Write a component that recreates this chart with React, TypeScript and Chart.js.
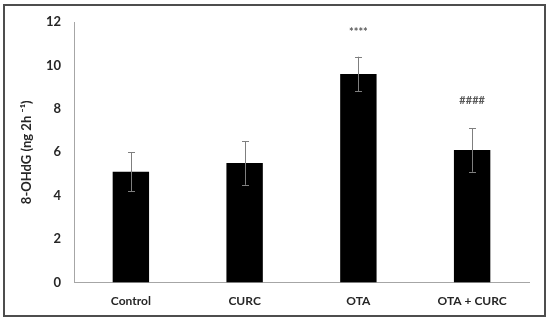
import React, { useEffect, useRef } from "react";
import { Chart, registerables } from "chart.js";

Chart.register(...registerables);

const categories = ["Control", "CURC", "OTA", "OTA + CURC"];
const means = [5.1, 5.5, 9.6, 6.1];
const errors = [0.9, 1.0, 0.8, 1.0];
const marks = ["", "", "****", "####"];
const markValues = [0, 0, 11.5, 8.4];
const yTicks = [0, 2, 4, 6, 8, 10, 12];

const FONT = "Lato, 'Open Sans', sans-serif";

const errorBarPlugin = {
  id: "errorBars",
  afterDatasetsDraw(chart: any) {
    const ctx = chart.ctx;
    const y = chart.scales.y;
    const meta = chart.getDatasetMeta(0);
    ctx.save();
    ctx.strokeStyle = "#7f7f7f";
    ctx.lineWidth = 1;
    meta.data.forEach((bar: any, i: number) => {
      const x = Math.round(bar.x) + 0.5;
      const top = y.getPixelForValue(means[i] + errors[i]);
      const bot = y.getPixelForValue(means[i] - errors[i]);
      ctx.beginPath();
      ctx.moveTo(x, top);
      ctx.lineTo(x, bot);
      ctx.moveTo(x - 3.5, Math.round(top) + 0.5);
      ctx.lineTo(x + 3.5, Math.round(top) + 0.5);
      ctx.moveTo(x - 3.5, Math.round(bot) + 0.5);
      ctx.lineTo(x + 3.5, Math.round(bot) + 0.5);
      ctx.stroke();
      if (marks[i]) {
        ctx.fillStyle = "#595959";
        ctx.font = `bold 11px ${FONT}`;
        ctx.textAlign = "center";
        ctx.textBaseline = "middle";
        ctx.fillText(marks[i], bar.x, y.getPixelForValue(markValues[i]));
      }
    });
    ctx.restore();
  },
};

export default function App() {
  const ref = useRef<HTMLCanvasElement | null>(null);
  useEffect(() => {
    document.body.style.margin = "0";
    const chart = new Chart(ref.current as HTMLCanvasElement, {
      type: "bar",
      data: {
        labels: categories,
        datasets: [
          {
            data: means,
            backgroundColor: "#000000",
            borderWidth: 0,
            categoryPercentage: 1,
            barPercentage: 0.32,
          },
        ],
      },
      options: {
        animation: false,
        responsive: false,
        maintainAspectRatio: false,
        layout: { padding: { left: 15, right: 21, top: 22, bottom: 0 } },
        plugins: { legend: { display: false }, tooltip: { enabled: false } },
        scales: {
          x: {
            grid: { display: false, drawTicks: false },
            border: { display: true, color: "#a6a6a6", width: 1 },
            ticks: {
              padding: 11,
              color: "#262626",
              font: { family: FONT, size: 12, weight: "bold" },
            },
            afterFit(scale: any) {
              scale.height = 41.5;
            },
          },
          y: {
            min: 0,
            max: 12,
            afterBuildTicks(scale: any) {
              scale.ticks = yTicks.map((v) => ({ value: v }));
            },
            grid: { display: false, drawTicks: false },
            border: { display: true, color: "#a6a6a6", width: 1 },
            ticks: {
              padding: 13,
              color: "#262626",
              font: { family: FONT, size: 13, weight: "bold" },
            },
            title: {
              display: true,
              text: "8-OHdG (ng 2h \u207B\u00B9)",
              color: "#262626",
              font: { family: FONT, size: 13, weight: "bold" },
              padding: { top: 4, bottom: 4 },
            },
            afterFit(scale: any) {
              scale.width = 59;
            },
          },
        },
      },
      plugins: [errorBarPlugin],
    });
    return () => chart.destroy();
  }, []);
  return (
    <div style={{ position: "relative", width: 550, height: 324, background: "#fff" }}>
      <div
        style={{
          position: "absolute",
          left: 3,
          top: 4,
          width: 539,
          height: 309,
          border: "2px solid #4d4d4d",
        }}
      />
      <canvas ref={ref} width={550} height={324} style={{ position: "absolute", left: 0, top: 0 }} />
    </div>
  );
}
